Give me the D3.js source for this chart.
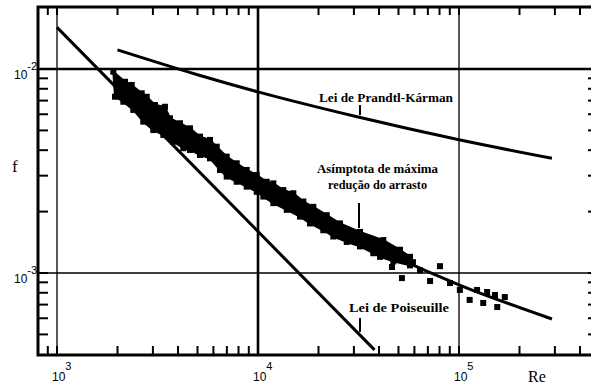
<!DOCTYPE html>
<html>
<head>
<meta charset="utf-8">
<script src="https://cdn.jsdelivr.net/npm/d3@7"></script>
<style>
  html, body { margin: 0; padding: 0; background: #fff; }
  svg { display: block; }
</style>
</head>
<body>
<svg width="591" height="387"></svg>
<script>
// values (Re, f)
const poisRe = [1000, 38000];
const poisF  = [0.016, 0.00042];

const pkRe = [2000, 5000, 10000, 30000, 100000, 290000];
const pkF  = [0.0124, 0.00937, 0.00772, 0.00588, 0.0045, 0.00365];

const mdrRe = [2000, 5000, 10000, 30000, 100000, 290000];
const mdrF  = [0.0089, 0.00428, 0.00269, 0.0015, 0.000875, 0.000595];

// dense cloud of measurements: upper and lower edge
const bandTopRe = [1906, 2180, 2353, 2639, 2795, 3073, 3445, 3649, 4092, 4588, 5145, 5770, 6231, 6987, 7834, 8786,
                   9851, 11050, 11920, 13360, 14990, 16810, 18840, 21970, 25590, 32170, 42010, 50880, 57050];
const bandTopF  = [0.0097, 0.00866, 0.00835, 0.0076, 0.00731, 0.00666, 0.00653, 0.00573, 0.00542, 0.00512, 0.00466, 0.00449, 0.00416, 0.00372, 0.00345, 0.0032,
                   0.00302, 0.0028, 0.00275, 0.00255, 0.00246, 0.00224, 0.00211, 0.00192, 0.00175, 0.00159, 0.00145, 0.0013, 0.0012];
const bandLowRe = [1944, 2138, 2397, 2688, 3013, 3381, 3790, 4251, 4588, 5145, 5770, 6470, 6987, 7834, 8786, 9851,
                   10630, 11920, 13900, 16180, 18150, 21130, 23700, 27630, 32170, 37470, 40460, 47120, 57050];
const bandLowF  = [0.00731, 0.00691, 0.0063, 0.00552, 0.00502, 0.00475, 0.0044, 0.00409, 0.00401, 0.00379, 0.00365, 0.0032, 0.00297, 0.0028, 0.00265, 0.0025,
                   0.00237, 0.0022, 0.00204, 0.00189, 0.00175, 0.00162, 0.00151, 0.00142, 0.00135, 0.00125, 0.0012, 0.00114, 0.00109];

// scattered points at high Re
const ptRe = [46400, 52000, 59000, 64000, 71800, 80400, 90200, 101000, 113000, 123000, 132000, 138000, 151000, 155000, 169000];
const ptF  = [0.00107, 0.000944, 0.00113, 0.00103, 0.000914, 0.00108, 0.000893, 0.000826, 0.000738, 0.000826, 0.000713, 0.000807, 0.00078, 0.000681, 0.000762];

const frame = {left: 38, right: 591, top: 7, bottom: 355};

const x = d3.scaleLog().domain([1e3, 1e5]).range([57, 459]);
const y = d3.scaleLog().domain([1e-2, 1e-3]).range([69, 273]);

const svg = d3.select("svg");

function draw() {
  const xTicks = x.copy().domain([x.invert(frame.left + 2), x.invert(frame.right - 1)]).ticks();
  const yTicks = y.copy().domain([y.invert(frame.bottom - 2), y.invert(frame.top + 2)]).ticks();

  const g = svg.append("g").attr("stroke", "#000");

  // minor ticks, pointing inwards
  g.selectAll(".tb").data(xTicks).join("line")
      .attr("x1", d => x(d)).attr("x2", d => x(d))
      .attr("y1", frame.bottom).attr("y2", frame.bottom - 9)
      .attr("stroke-width", 2);
  g.selectAll(".tt").data(xTicks).join("line")
      .attr("x1", d => x(d)).attr("x2", d => x(d))
      .attr("y1", frame.top).attr("y2", frame.top + 8)
      .attr("stroke-width", 2);
  g.selectAll(".tl").data(yTicks).join("line")
      .attr("x1", frame.left).attr("x2", frame.left + 10)
      .attr("y1", d => y(d)).attr("y2", d => y(d))
      .attr("stroke-width", 2);
  g.selectAll(".tr").data(yTicks).join("line")
      .attr("x1", frame.right - 3).attr("x2", frame.right)
      .attr("y1", d => y(d)).attr("y2", d => y(d))
      .attr("stroke-width", 2);

  // decade grid lines
  const xGrid = [[1e3, 1.3], [1e4, 2.6], [1e5, 1.3]];
  const yGrid = [[1e-2, 2.6], [1e-3, 1.4]];
  g.selectAll(".gx").data(xGrid).join("line")
      .attr("x1", d => x(d[0])).attr("x2", d => x(d[0]))
      .attr("y1", frame.top).attr("y2", frame.bottom)
      .attr("stroke-width", d => d[1]);
  g.selectAll(".gy").data(yGrid).join("line")
      .attr("x1", frame.left).attr("x2", frame.right)
      .attr("y1", d => y(d[0])).attr("y2", d => y(d[0]))
      .attr("stroke-width", d => d[1]);

  // frame: top, left, bottom
  g.append("path")
      .attr("fill", "none")
      .attr("stroke-width", 3)
      .attr("d", `M${frame.right},${frame.top}H${frame.left}V${frame.bottom}H${frame.right}`);

  // measurement cloud
  const topPts = bandTopRe.map((r, i) => [x(r), y(bandTopF[i])]);
  const lowPts = bandLowRe.map((r, i) => [x(r), y(bandLowF[i])]);
  svg.append("path")
      .attr("d", d3.line().curve(d3.curveLinearClosed)(topPts.concat(lowPts.slice().reverse())))
      .attr("fill", "#000")
      .attr("stroke", "#000")
      .attr("stroke-width", 2)
      .attr("stroke-linejoin", "round");

  // square markers along the ragged edge of the cloud
  svg.selectAll(".edge").data(topPts.concat(lowPts)).join("rect")
      .attr("x", d => d[0] - 3)
      .attr("y", d => d[1] - 3)
      .attr("width", 6).attr("height", 6)
      .attr("fill", "#000");

  svg.selectAll(".pt").data(ptRe).join("rect")
      .attr("x", (d, i) => x(d) - 3)
      .attr("y", (d, i) => y(ptF[i]) - 3)
      .attr("width", 6).attr("height", 6)
      .attr("fill", "#000");

  // curves
  const line = d3.line().curve(d3.curveMonotoneX);
  const curves = [[poisRe, poisF], [pkRe, pkF], [mdrRe, mdrF]];
  svg.selectAll(".curve").data(curves).join("path")
      .attr("fill", "none")
      .attr("stroke", "#000")
      .attr("stroke-width", 3)
      .attr("d", d => line(d[0].map((r, i) => [x(r), y(d[1][i])])));

  // annotations
  const notes = [
    {t: "Lei de Prandtl-Kárman", x: 319, y: 102, w: 134},
    {t: "Asímptota de máxima", x: 317, y: 173, w: 121},
    {t: "redução do arrasto", x: 328, y: 189, w: 99},
    {t: "Lei de Poiseuille", x: 349, y: 312, w: 100}
  ];
  svg.selectAll(".note").data(notes).join("text")
      .attr("x", d => d.x).attr("y", d => d.y)
      .attr("textLength", d => d.w)
      .attr("lengthAdjust", "spacingAndGlyphs")
      .attr("font-family", "Liberation Serif, serif")
      .attr("font-weight", "bold")
      .attr("font-size", 12)
      .text(d => d.t);

  const pointers = [[360, 105, 115], [359, 203, 228], [360, 318, 332]];
  svg.selectAll(".ptr").data(pointers).join("line")
      .attr("x1", d => d[0]).attr("x2", d => d[0])
      .attr("y1", d => d[1]).attr("y2", d => d[2])
      .attr("stroke", "#000").attr("stroke-width", 2);

  // tick labels
  const lab = svg.append("g")
      .attr("font-family", "Liberation Sans, Arial, sans-serif")
      .attr("fill", "#000");
  const xLab = [[1e3, "3"], [1e4, "4"], [1e5, "5"]];
  xLab.forEach(([v, e]) => {
    const t = lab.append("text")
        .attr("x", x(v) - 5).attr("y", 381)
        .attr("font-size", 12);
    t.append("tspan").text("10");
    t.append("tspan").attr("dy", -11).attr("font-size", 11).text(e);
  });
  const yLab = [[1e-2, "-2"], [1e-3, "-3"]];
  yLab.forEach(([v, e]) => {
    const t = lab.append("text")
        .attr("x", 14).attr("y", y(v) + 10)
        .attr("font-size", 12);
    t.append("tspan").text("10");
    t.append("tspan").attr("dy", -9).attr("font-size", 11).text(e);
  });

  svg.append("text")
      .attr("x", 12).attr("y", 172)
      .attr("font-family", "Liberation Serif, serif")
      .attr("font-size", 17)
      .text("f");
  svg.append("text")
      .attr("x", 528).attr("y", 382)
      .attr("font-family", "Liberation Serif, serif")
      .attr("font-size", 16)
      .text("Re");
}

draw();
</script>
</body>
</html>
